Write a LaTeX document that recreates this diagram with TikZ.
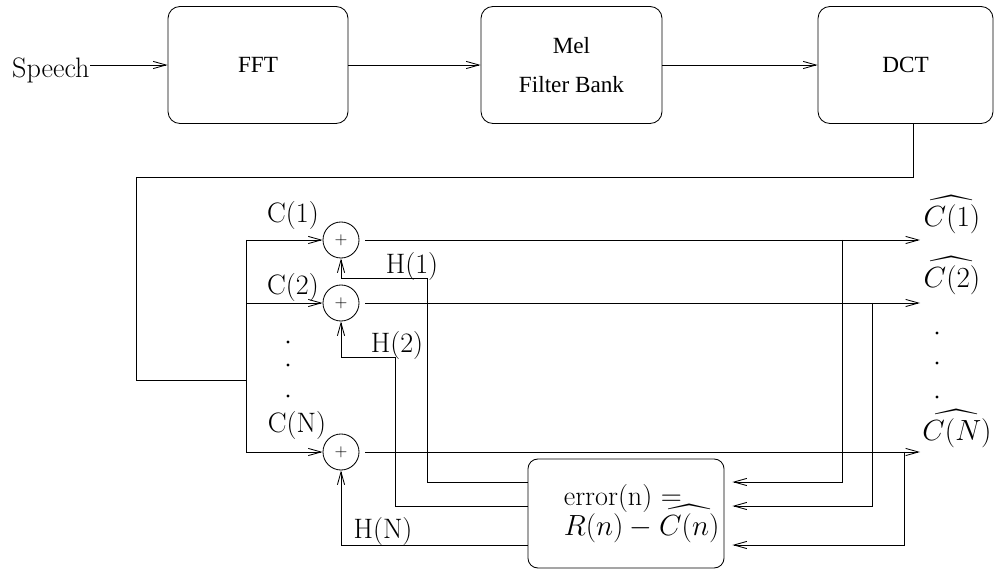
\documentclass[tikz,border=0pt]{standalone}
\usepackage{amsmath}
\usepackage{fontspec}
\newfontfamily\timesfont{Liberation Serif}
\usetikzlibrary{arrows.meta}

\begin{document}
\begin{tikzpicture}[x=0.025cm, y=-0.025cm, line width=0.6pt,
    box/.style={draw, rounded corners=0.3cm, minimum width=4.5cm, minimum height=2.925cm,
      font=\timesfont\fontsize{16.5}{28}\selectfont, align=center},
    sum/.style={draw, circle, minimum size=0.9cm, inner sep=0pt, font=\large},
    lbl/.style={font=\fontsize{20}{24}\selectfont, inner sep=0pt},
    arr/.style={-{Straight Barb[length=3.2mm, width=1.8mm]}}]
    \useasboundingbox (0,0) rectangle (995,570);

    % front end
    \node[box] (fft) at (258,65) {FFT};
    \node[box, minimum width=4.525cm] (mel) at (571.5,65) {Mel\\Filter Bank};
    \node[box, minimum width=4.375cm] (dct) at (905.5,65) {DCT};
    \node[lbl, anchor=base east] (speech) at (90,78) {Speech};
    \draw[arr] (speech.east |- fft.west) -- (fft);
    \draw[arr] (fft) -- (mel);
    \draw[arr] (mel) -- (dct);

    % adders
    \node[sum] (s1) at (341,240) {$+$};
    \node[sum] (s2) at (341,303) {$+$};
    \node[sum] (sN) at (341,452) {$+$};
    \node[box, minimum width=4.9cm, minimum height=2.725cm, rounded corners=0.25cm,
      font=\fontsize{20}{20}\selectfont, align=left] (err) at (626,513.5)
      {\hspace*{0.78cm}error(n) $=$\\\hspace*{0.78cm}$R(n)-\smash{\widehat{C(n)}}$};

    \coordinate (bus) at (246,380);
    \draw ([xshift=0.19cm]dct.south) |- (136,177) |- (bus);
    \draw (bus |- s1) -- (bus |- sN);
    \foreach \s in {s1,s2,sN}
        \draw[arr] (bus |- \s) -- (\s);
    \foreach \s/\y in {s1/240,s2/303,sN/452}
        \draw[arr, shorten <=0.15cm] (\s) -- (920,\y);

    \node[lbl] (c1) at (293,215) {C(1)};
    \node[lbl] (c2) at (293,287) {C(2)};
    \node[lbl] (cN) at (297,425) {C(N)};
    \node[lbl] (r1) at (952,215) {$\widehat{C(1)}$};
    \node[lbl] (r2) at (952,276) {$\widehat{C(2)}$};
    \node[lbl] (rN) at (957,429) {$\widehat{C(N)}$};
    \foreach \y in {342,365,396}
        \fill (288,\y) circle[radius=1.1pt];
    \foreach \y in {333,363,397}
        \fill (937,\y) circle[radius=1.1pt];

    % error feedback
    \coordinate (e1) at (0,482);
    \coordinate (e2) at (0,506);
    \coordinate (eN) at (0,545);
    \draw[arr] (842,240) |- ([xshift=0.2cm]err.east |- e1);
    \draw[arr] (872,303) |- ([xshift=0.2cm]err.east |- e2);
    \draw[arr] (904,452) |- ([xshift=0.2cm]err.east |- eN);
    \draw[arr] (err.west |- e1) -| (427,278) -| (s1);
    \draw[arr] (err.west |- e2) -| (395,357) -| (s2);
    \draw[arr] (err.west |- eN) -| (sN);

    \node[lbl] (h1) at (412,266) {H(1)};
    \node[lbl] (h2) at (397,345) {H(2)};
    \node[lbl] (hN) at (383,531) {H(N)};
\end{tikzpicture}
\end{document}
